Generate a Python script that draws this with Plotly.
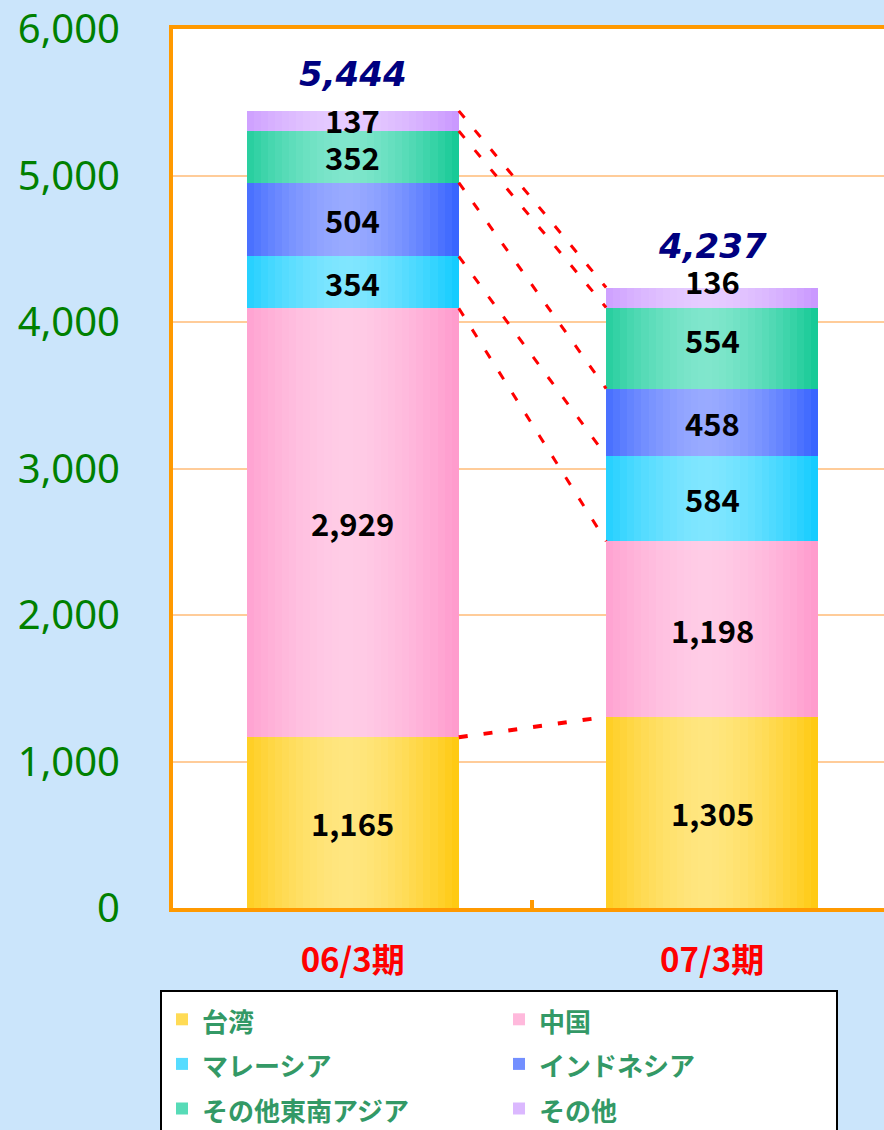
import plotly.graph_objects as go
import numpy as np

periods = ["06/3期", "07/3期"]
regions = ["台湾", "中国", "マレーシア", "インドネシア", "その他東南アジア", "その他"]
taiwan = [1165, 1305]
china = [2929, 1198]
malaysia = [354, 584]
indonesia = [504, 458]
other_sea = [352, 554]
other = [137, 136]
totals = [5444, 4237]

series = [taiwan, china, malaysia, indonesia, other_sea, other]

# edge / centre colours of each horizontal gradient
edge_colors = ["#ffc90d", "#ff99cc", "#0fcbff", "#3461ff", "#12c994", "#c996ff"]
center_colors = ["#ffe680", "#ffcce6", "#80e6ff", "#99aaff", "#80e6cc", "#e6ccff"]

BAR_W = 0.59
N_STRIPS = 30


def hex_to_rgb(h):
    h = h.lstrip("#")
    return np.array([int(h[i:i + 2], 16) for i in (0, 2, 4)], dtype=float)


def blend(c1, c2, f):
    c = hex_to_rgb(c1) * (1 - f) + hex_to_rgb(c2) * f
    return "rgb(%d,%d,%d)" % tuple(np.round(c))


vals = np.array(series)
bases = np.vstack([np.zeros(2), np.cumsum(vals, axis=0)[:-1]])
tops = np.cumsum(vals, axis=0)

fig = go.Figure()

step = BAR_W / N_STRIPS
for k, name in enumerate(regions):
    for i in range(N_STRIPS):
        t = (i + 0.5) / N_STRIPS
        f = 1 - (abs(t - 0.47) / 0.53) ** 1.6
        f = max(0.0, min(1.0, f))
        off = -BAR_W / 2 + i * step
        wd = min(step * 1.6, BAR_W / 2 - off)
        # legend font is larger than the shown text so the rows get taller
        label = "<span style='font-size:26px'>" + name + "</span>"
        fig.add_trace(go.Bar(
            x=periods, y=series[k], base=bases[k],
            offset=off, width=wd,
            marker=dict(color=blend(edge_colors[k], center_colors[k], f), line=dict(width=0)),
            name=label, legendgroup=name,
            showlegend=(i == 5),
            hoverinfo="skip",
        ))

# red dashed connectors between the top of each segment
for k in range(len(regions)):
    fig.add_shape(type="line", xref="x", yref="y",
                  x0=BAR_W / 2, x1=1 - BAR_W / 2,
                  y0=tops[k][0], y1=tops[k][1],
                  line=dict(color="red", width=4 if k == 0 else 3, dash="9px,16px"))

# segment labels (the top two of the right bar sit a little higher)
label_shift = {(5, 0): 1, (5, 1): 17, (4, 1): 9}
for k in range(len(regions)):
    for j, p in enumerate(periods):
        fig.add_annotation(x=p, y=bases[k][j] + series[k][j] / 2,
                           text=f"{series[k][j]:,}", showarrow=False,
                           yshift=label_shift.get((k, j), 0),
                           font=dict(family="Noto Sans CJK JP", size=31, color="black", weight="bold"))

# totals
total_shift = [36, 41]
for j, p in enumerate(periods):
    fig.add_annotation(x=p, y=totals[j], text=f"<i>{totals[j]:,}</i>", showarrow=False,
                       yshift=total_shift[j],
                       font=dict(family="DejaVu Sans", size=34, color="#000080", weight="bold"))

fig.update_layout(
    barmode="overlay",
    width=884, height=1130,
    margin=dict(l=173, r=0, t=27, b=222),
    paper_bgcolor="#cbe5fb",
    plot_bgcolor="white",
    bargap=0,
    legend=dict(
        orientation="h", xref="container", yref="container",
        x=160 / 884, xanchor="left", y=1 - 990 / 1130, yanchor="top",
        bgcolor="white", bordercolor="black", borderwidth=2,
        font=dict(family="Noto Sans CJK JP", size=32, color="#339966", weight="bold"),
        entrywidth=292, entrywidthmode="pixels", traceorder="normal",
    ),
)

fig.update_xaxes(
    type="category", range=[-0.5, 1.478],
    showline=True, linecolor="#ff9900", linewidth=4, mirror=True,
    ticks="inside", tickson="boundaries", ticklen=8, tickwidth=4, tickcolor="#ff9900",
    tickfont=dict(family="Noto Sans CJK JP", size=33, color="red", weight="bold"),
    ticklabelstandoff=20,
    showgrid=False,
)
fig.update_yaxes(
    range=[0, 6000], dtick=1000, tickformat=",d",
    showgrid=True, gridcolor="#ffcc99", gridwidth=2,
    zeroline=False,
    showline=True, linecolor="#ff9900", linewidth=4,
    ticks="",
    tickfont=dict(family="Noto Sans", size=40, color="#008000"),
    ticklabelstandoff=41, ticklabeloverflow="allow",
)

fig.write_html("out.html", config={"displayModeBar": False},
               post_script="document.body.style.margin='0';")
